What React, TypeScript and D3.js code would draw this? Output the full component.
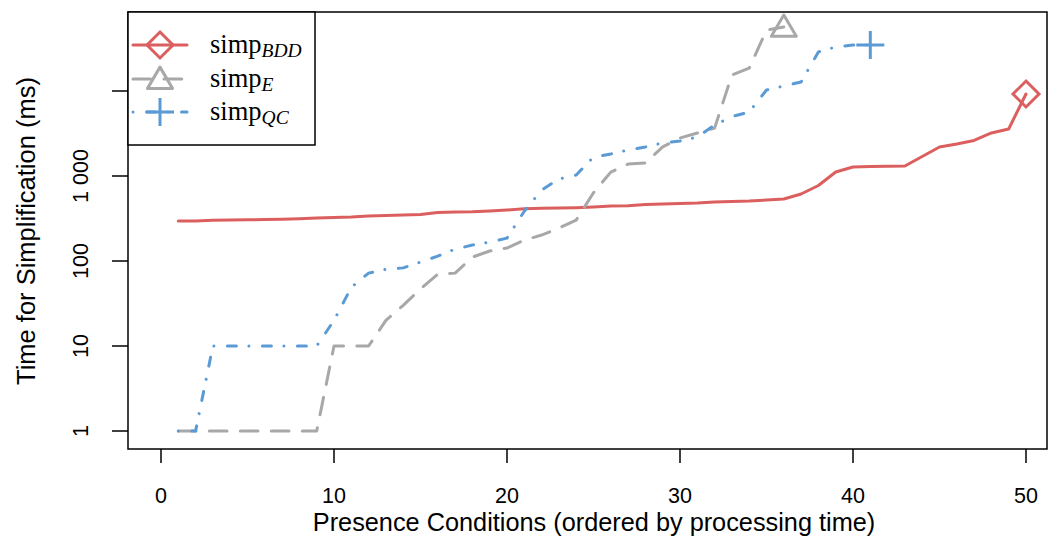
import React from "react";
import * as d3 from "d3";

// Times (ms) per presence condition, ordered by processing time (x = rank 1..n)
const simpBDD = [295, 295, 301, 304, 305, 307, 309, 314, 320, 325, 329, 338, 343, 348, 352, 372, 377, 380, 388, 398, 412, 417, 420, 424, 432, 444, 446, 461, 468, 475, 481, 494, 501, 508, 522, 536, 614, 773, 1114, 1276, 1294, 1301, 1312, 1695, 2195, 2379, 2617, 3206, 3573, 9220];
const simpE = [1, 1, 1, 1, 1, 1, 1, 1, 1, 10, 10, 10, 20, 30, 47, 70, 72, 111, 131, 142, 176, 202, 244, 303, 636, 1110, 1380, 1422, 2200, 2800, 3200, 3660, 15400, 18600, 52000, 56700];
const simpQC = [1, 1, 10, 10, 10, 10, 10, 10, 10, 20, 49, 72, 80, 83, 97, 114, 138, 154, 167, 186, 385, 684, 922, 1027, 1674, 1815, 2023, 2195, 2445, 2582, 2877, 3980, 5000, 5660, 10280, 11460, 12760, 28770, 32950, 34750, 34750];

const xTicks = [0, 10, 20, 30, 40, 50];
const yTicks = [1, 10, 100, 1000, 10000];
const yTickLabels = ["1", "10", "100", "1 000", ""];

const RED = "#DC5F5F";
const GRAY = "#A8A8A8";
const BLUE = "#5B9BD5";

const W = 1049;
const H = 541;
const LW = 3;
const DASH_E = "17.7,13.3";
const DASH_QC = "0.01,13.5,9,12.5";

export default function App() {
  const x = d3.scaleLinear().domain([0, 50]).range([161, 1026]);
  const y = d3.scaleLog().domain([1, 10]).range([431, 346]);

  const box = { left: 128, right: 1047, top: 12, bottom: 449 };

  const toPts = (arr: number[]) => arr.map((v, i) => [i + 1, v] as [number, number]);
  const line = d3
    .line<[number, number]>()
    .x((d) => x(d[0]))
    .y((d) => y(d[1]));

  const series = [
    { data: simpBDD, color: RED, dash: undefined as string | undefined, marker: "diamond" },
    { data: simpE, color: GRAY, dash: DASH_E, marker: "triangle" },
    { data: simpQC, color: BLUE, dash: DASH_QC, marker: "plus" },
  ];

  const marker = (kind: string, cx: number, cy: number, color: string) => {
    if (kind === "diamond") {
      const r = 13;
      return (
        <path d={`M${cx},${cy - r}L${cx + r},${cy}L${cx},${cy + r}L${cx - r},${cy}Z`} fill="none" stroke={color} strokeWidth={LW} />
      );
    }
    if (kind === "triangle") {
      const r = 12.5;
      return (
        <path d={`M${cx},${cy - r * 0.95}L${cx + r},${cy + r * 0.75}L${cx - r},${cy + r * 0.75}Z`} fill="none" stroke={color} strokeWidth={LW} strokeLinejoin="round" />
      );
    }
    const r = 14;
    return (
      <path d={`M${cx - r},${cy}L${cx + r},${cy}M${cx},${cy - r}L${cx},${cy + r}`} fill="none" stroke={color} strokeWidth={LW} />
    );
  };

  const legendItems = [
    { sub: "BDD", color: RED, dash: undefined as string | undefined, marker: "diamond" },
    { sub: "E", color: GRAY, dash: DASH_E, marker: "triangle" },
    { sub: "QC", color: BLUE, dash: DASH_QC, marker: "plus" },
  ];
  const legendRowY = [45, 79, 112];

  return (
    <svg width={W} height={H} style={{ position: "absolute", left: 0, top: 0, background: "#fff" }}>
      <rect x={0} y={0} width={W} height={H} fill="#fff" />
      {/* series */}
      {series.map((s, i) => {
        const pts = toPts(s.data);
        const last = pts[pts.length - 1];
        return (
          <g key={i}>
            <path d={line(pts) || ""} fill="none" stroke={s.color} strokeWidth={LW} strokeDasharray={s.dash} strokeLinecap="round" strokeLinejoin="round" />
            {marker(s.marker, x(last[0]), y(last[1]), s.color)}
          </g>
        );
      })}

      {/* plot box */}
      <rect x={box.left} y={box.top} width={box.right - box.left} height={box.bottom - box.top} fill="none" stroke="#000" strokeWidth={1.5} />

      {/* x axis */}
      <g fontFamily="'Liberation Sans', Arial, sans-serif" fontSize={21.5} fill="#000">
        {xTicks.map((t) => (
          <g key={t}>
            <line x1={x(t)} x2={x(t)} y1={box.bottom} y2={box.bottom + 14} stroke="#000" strokeWidth={1.5} />
            <text x={x(t)} y={503} textAnchor="middle">{t}</text>
          </g>
        ))}
      </g>
      <text x={594} y={531} textAnchor="middle" fontFamily="'Liberation Sans', Arial, sans-serif" fontSize={25.3}>
        Presence Conditions (ordered by processing time)
      </text>

      {/* y axis */}
      <g fontFamily="'Liberation Sans', Arial, sans-serif" fontSize={21.5} fill="#000">
        {yTicks.map((t, i) => (
          <g key={t}>
            <line x1={box.left - 16} x2={box.left} y1={y(t)} y2={y(t)} stroke="#000" strokeWidth={1.5} />
            {yTickLabels[i] && (
              <text transform={`translate(88,${y(t)}) rotate(-90)`} textAnchor="middle">{yTickLabels[i]}</text>
            )}
          </g>
        ))}
      </g>
      <text transform={`translate(35,231) rotate(-90)`} textAnchor="middle" fontFamily="'Liberation Sans', Arial, sans-serif" fontSize={25.5}>
        Time for Simplification (ms)
      </text>

      {/* legend */}
      <rect x={128} y={12} width={187} height={133} fill="#fff" stroke="#000" strokeWidth={1.5} />
      {legendItems.map((it, i) => {
        const ly = legendRowY[i];
        return (
          <g key={i}>
            <line x1={133} x2={187} y1={ly} y2={ly} stroke={it.color} strokeWidth={LW} strokeDasharray={it.dash} strokeLinecap="round" />
            {marker(it.marker, 160, ly, it.color)}
            <text x={210} y={ly + 8} fontFamily="'Liberation Serif', 'Times New Roman', serif" fontSize={26.5} fill="#000">
              simp
              <tspan fontStyle="italic" fontSize={19.5} dy={4}>{it.sub}</tspan>
            </text>
          </g>
        );
      })}
    </svg>
  );
}
